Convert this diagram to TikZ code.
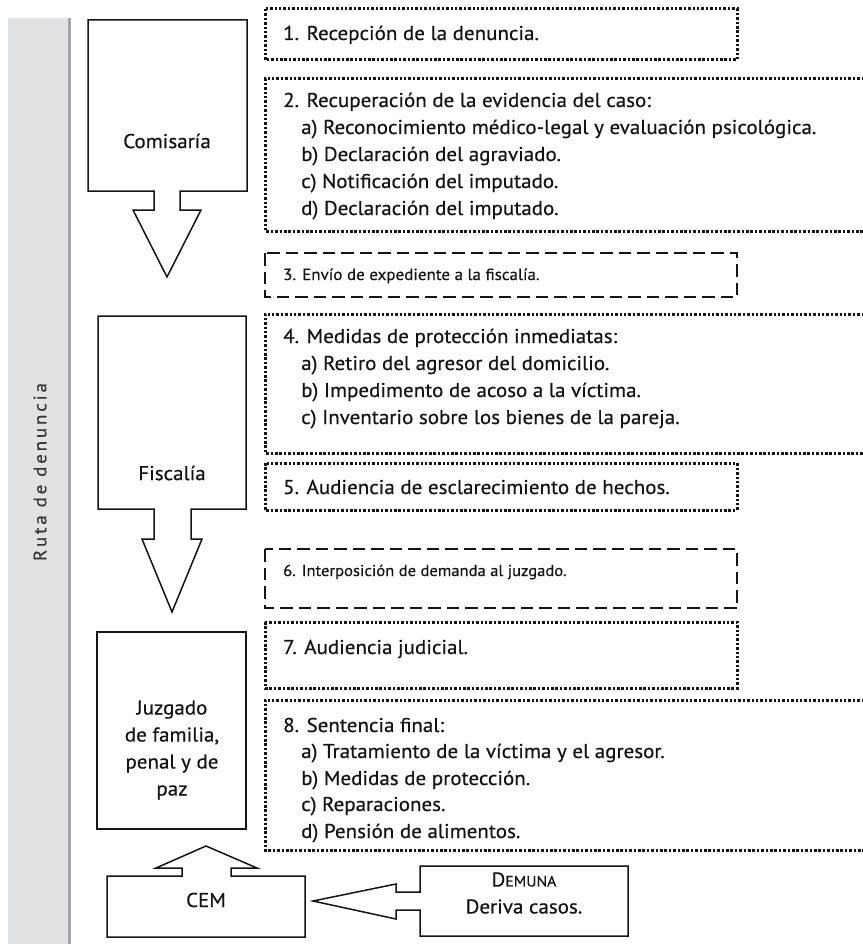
\documentclass[tikz,border=0pt]{standalone}
\usepackage{fontspec}
\setmainfont{PT Sans}[FakeBold=0.5,FakeStretch=1.05]
\definecolor{ink}{HTML}{141414}
\definecolor{band}{HTML}{E1E2E4}
\definecolor{bandedge}{HTML}{A4A4A6}
\begin{document}
\begin{tikzpicture}[x=1pt,y=-1pt,
  shp/.style={draw=ink,line width=1.5pt,line join=miter,fill=white},
  dotbox/.style={draw=ink,line width=3pt,dash pattern=on 2.5pt off 1.9pt},
  dashbox/.style={draw=ink,line width=1.3pt,dash pattern=on 12.5pt off 6pt},
  txt/.style={anchor=base west,inner sep=0pt,text=ink,font=\fontsize{20}{27}\selectfont},
  stxt/.style={anchor=base west,inner sep=0pt,text=ink,font=\fontsize{16.2}{22}\selectfont},
  ctxt/.style={inner sep=0pt,text=ink,align=center,font=\fontsize{20}{27}\selectfont}]
\useasboundingbox (0,0) rectangle (862,944);
% side band
\fill[band] (8,18) rectangle (68,944);
\draw[bandedge,line width=2.6pt] (69.3,18) -- (69.3,944);
\node[rotate=90,text=ink!85,inner sep=0pt,font=\fontsize{18}{20}\selectfont\addfontfeature{LetterSpace=16}] (ruta) at (40,472) {Ruta de denuncia};
% Comisaria
\draw[shp] (88,20) -- (247,20) -- (247,191) -- (180,191) -- (180,210) -- (201,210) -- (167,277) -- (133,210) -- (154,210) -- (154,191) -- (88,191) -- cycle;
\node[ctxt] (comisaria) at (167,141) {Comisaría};
% Fiscalia
\draw[shp] (98,316) -- (246,316) -- (246,509) -- (191,509) -- (191,539) -- (202,539) -- (172,612) -- (142,539) -- (154,539) -- (154,509) -- (98,509) -- cycle;
\node[ctxt] (fiscalia) at (172,473) {Fiscalía};
% Juzgado
\draw[shp] (97,632) rectangle (246,829);
\node[ctxt] (juzgado) at (172,750) {Juzgado\\de familia,\\penal y de\\paz};
% CEM
\draw[shp] (107,876) -- (182,876) -- (182,868) -- (156,868) -- (206,846) -- (257,868) -- (231,868) -- (231,876) -- (305,876) -- (305,937) -- (107,937) -- cycle;
\node[ctxt] (cem) at (206,900) {CEM};
% DEMUNA
\draw[shp] (420,866) -- (628,866) -- (628,936) -- (420,936) -- (420,910) -- (396,910) -- (396,919) -- (313,901) -- (396,884) -- (396,892) -- (420,892) -- cycle;
\node[ctxt] (demuna) at (524,893) {D{\fontsize{15}{27}\selectfont EMUNA}\\Deriva casos.};
% Box 1
\draw[dotbox] (265,9) rectangle (737,60);
\node[txt] (t1) at (283,40) {1. Recepción de la denuncia.};
% Box 2
\draw[dotbox] (864,79) -- (265,79) -- (265,231) -- (864,231);
\node[txt] (t2) at (283,107) {2. Recuperación de la evidencia del caso:};
\node[txt] (t2a) at (301,134) {a) Reconocimiento médico-legal y evaluación psicológica.};
\node[txt] (t2b) at (301,161) {b) Declaración del agraviado.};
\node[txt] (t2c) at (301,188) {c) Notificación del imputado.};
\node[txt] (t2d) at (301,215) {d) Declaración del imputado.};
% Box 3
\draw[dashbox] (265,253) rectangle (737,297);
\node[stxt] (t3) at (283,280) {3. Envío de expediente a la fiscalía.};
% Box 4
\draw[dotbox] (864,314) -- (265,314) -- (265,453) -- (864,453);
\node[txt] (t4) at (283,343) {4. Medidas de protección inmediatas:};
\node[txt] (t4a) at (301,370) {a) Retiro del agresor del domicilio.};
\node[txt] (t4b) at (301,397) {b) Impedimento de acoso a la víctima.};
\node[txt] (t4c) at (301,424) {c) Inventario sobre los bienes de la pareja.};
% Box 5
\draw[dotbox] (265,463) rectangle (737,510);
\node[txt] (t5) at (283,494) {5. Audiencia de esclarecimiento de hechos.};
% Box 6
\draw[dashbox] (265,549) rectangle (737,608);
\node[stxt,font=\fontsize{15.8}{22}\selectfont] (t6) at (283,576) {6. Interposición de demanda al juzgado.};
% Box 7
\draw[dotbox] (265,622) rectangle (737,688);
\node[txt] (t7) at (283,654) {7. Audiencia judicial.};
% Box 8
\draw[dotbox] (864,700) -- (265,700) -- (265,850) -- (864,850);
\node[txt] (t8) at (283,732) {8. Sentencia final:};
\node[txt] (t8a) at (301,758) {a) Tratamiento de la víctima y el agresor.};
\node[txt] (t8b) at (301,785) {b) Medidas de protección.};
\node[txt] (t8c) at (301,811) {c) Reparaciones.};
\node[txt] (t8d) at (301,838) {d) Pensión de alimentos.};
\end{tikzpicture}
\end{document}
